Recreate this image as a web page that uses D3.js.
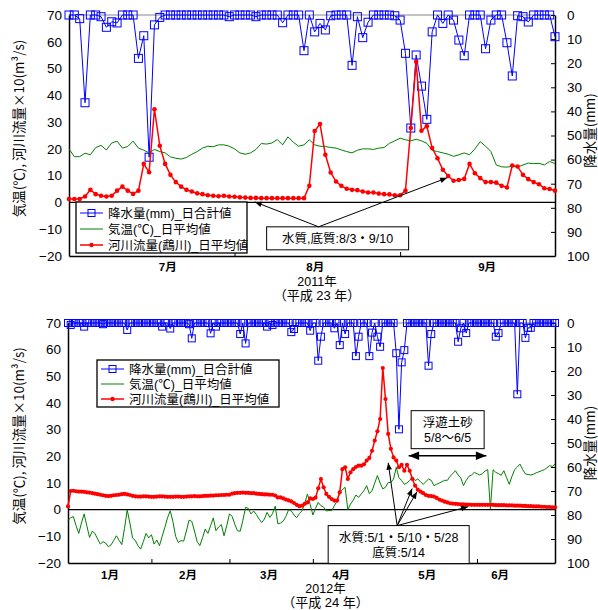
<!DOCTYPE html>
<html><head><meta charset="utf-8">
<script src="https://cdn.jsdelivr.net/npm/d3@7"></script>
<style>body{margin:0;background:#fff}svg{display:block}</style>
</head><body><svg id="c" width="598" height="610"></svg>
<script>
// ---------- DATA ----------
// 2011 (Jul 1 - Sep 30), daily
const rain2011 = [0,0,1.5,36.4,0,0,0.7,5.1,2.8,3.3, 0,0,0,18,8.6,59,4.1,1,0,0, 0,0,0,0,0,0,0,0,0,0,
  0.7,0,0,0,0,0.7,0,0,0,0, 3.2,0,0,0,14.8,0,7,3.5,6.2,0.3, 0,0,0,20.9,0.7,9.4,3,0,0,0,
  0,0.3,2.1,15.9,46.9,16.6,29.5,43.3,7,0, 3.5,0,2.1,10.4,16.9,0,0,0,14,2.1, 0,0,11.5,25.3,0.3,0.7,2.9,0,0,0, 0,9];
const temp2011 = [20,17.1,17.1,18.4,17.8,20.5,21.3,19.6,22.2,22.9, 20.3,20.9,22.9,20.3,19.5,18.5,19.8,19,18.5,17,
  16.5,16.2,16.8,18,19,20.3,21,20.8,21.5,21.5, 21,20,18.5,18,18.5,19.8,22,21.8,22.2,23.5,
  21.5,24.5,22.5,21,21.5,23.4,21.5,21,20.9,20.5, 20.3,19.6,19,18.5,19.5,20,20,19.8,20.3,20.5,
  22.1,23,24,23.4,23,23.6,23,22.1,19.5,19, 18.5,18,17.2,17.8,18.5,17.8,20,22.7,21,19,
  14,13.3,13.2,13.5,13.2,14,14.7,14.5,14.6,14, 15.3,14.5];
const flow2011 = [1.3,1.3,1.3,2.2,4.7,3.1,2.5,2.2,2.5,4.4, 5.9,4.4,3.2,4.4,14.4,11.3,34.8,21.2,14.4,10.3,
  7.6,5.9,4.7,4.1,3.4,3.1,2.7,2.5,2.3,2.5, 2.2,2.1,1.9,1.8,1.7,1.7,1.6,1.6,1.6,1.6,
  1.6,1.6,1.6,1.6,1.6,6.2,26.7,29.3,17.8,11.2, 7.8,6.2,5.1,4.7,4.6,4.1,3.7,3.7,3.3,3.1,
  3.0,2.7,2.7,4.4,27.8,52.5,26.8,28.5,20.3,16.5, 12.2,9.9,8.1,8.4,8.8,14.4,10.9,9.1,7.6,7.6,
  7.4,6.2,5.6,13.8,13.4,10.3,8.7,7.6,6.8,5.3, 5.0,4.4];

// 2012 (Jan 1 - Jun 30), daily
const rain2012 = [0,0.8,0,0,0,0,1.5,0,0,0, 0,0,0,0.5,0,0,0,0,0,0, 0,0,2.9,0,0,0,0,0,0,0,
  0,0,0,0,0,1.5,0,0,2.3,0, 0,0,0,0,0,0.5,6.4,0,0,0, 0,0,0,4.3,0,1.5,0,0,0,0,
  0,0,0,0,4.6,0,8.5,0,0,0, 0,0,0,0,1.5,0,0.8,0,0,0, 0,0,0,3.8,2.5,0,0,0,0,0,
  3.2,0,0,15.7,5.7,0,0,0,0,2.2, 0,9.2,0,4.6,0,0,0,13.8,5.7,0, 0,0,13.8,4,0,5.7,9.9,0,0,0,
  0,0,12.6,44.3,16.4,11.3,0,0,0,0, 0,0,0,0,17.8,4.6,0,0,0,0, 0,0,0,0,0,7.8,2.2,0,4.2,0,
  0,0,0,0,0,0,0,0,0,5.7, 4.2,0,0,0,0,0,0,29.7,0,0, 6.2,2,2,0,0,0,0,0,0,0, 0,0];
const temp2012 = [-4.1,-3,-2.6,-6,-8.9,-5,-1.6,-6,-10.4,-8.1, -8.9,-11,-12.9,-12,-12.5,-13.9,-13.2,-11.5,-9.8,-11.5,
  -13.1,-7,-0.1,-5,-10.6,-11.5,-13.5,-14.8,-12,-8.9, -10.6,-9.4,-12.9,-11.4,-13.5,-10,-6.6,-3,-0.4,-4.5,
  -10,-12.3,-11.6,-11.8,-8,-3.9,-4.4,-8,-12,-13.5, -10.5,-7.3,-8.9,-6,-3.1,-7.9,-6.5,-5.6,-9.8,-6,
  -1.6,-2.5,-5.5,-7.9,-8.1,-4,0.9,0.5,-1.6,-0.5, -1.8,-3.5,-4.8,-3.5,-1,-2.9,-1.5,1.3,-5.3,-5,
  -4.3,-2.5,0,-0.5,-2,-3,-1.5,-0.4,2.5,5.9, 2,-2,0.5,2.7,1.5,0.9,-0.5,-0.3,-0.4,1.5,
  3.2,6.5,7.5,8.4,0,2.1,3.5,5.5,4.6,5.9, 7.1,9,6,7.1,10,12.8,10,7.8,8.4,10.2,
  10.2,11.5,15.9,12,10.9,9.5,10,11,12.3,10.9, 11.5,10.5,9.5,10.5,11.5,11,9,9.5,10,10.5,
  11,11,12.5,13.5,14.6,13,11.9,9,11,12.5, 13,14,13.5,13,13.5,14.5,15,0.3,15,14,
  13.5,12.9,14.6,12,9.5,12.5,15,16,17.1,15, 13.4,13.2,13,13.3,13.8,14.2,14.6,15,15.7,16.5, 16.2,17.1];
const flow2012 = [1.2,7,7.1,6.9,6.8,6.8,6.7,6.5,6.4,6.2, 6.0,5.8,5.6,5.4,5.2,5.1,5.2,5.4,5.5,5.6,
  5.8,5.9,5.7,5.5,5.2,5.0,4.9,4.9,5.0,5.0, 4.9,4.8,4.8,4.9,5.0,5.0,4.9,4.8,4.8,4.8,
  4.9,4.9,4.8,4.8,4.9,5.0,5.0,5.1,5.0,5.0, 5.1,5.2,5.2,5.3,5.3,5.4,5.4,5.5,5.5,5.6,
  5.6,6.0,6.2,6.3,6.3,6.4,6.3,6.3,6.2,6.2, 6.0,5.9,5.8,5.7,5.7,5.6,5.6,5.3,4.6,4.6,
  4.2,3.8,3.5,3.1,2.5,1.8,1.3,1.5,2.2,2.7, 4.2,4.0,4.5,8.0,11.5,8.4,5.9,4.8,4.0,3.4,
  3.4,6.5,15.2,15.9,11.5,14,15.2,16,16.5,16.5, 17,18.4,19.4,22.1,25.9,29.4,34,53.1,41.5,28.4,
  22.8,19.6,18.4,15.9,16.8,14.6,16.8,14.6,11.5,9, 7.5,6.8,6.2,5.5,5.2,5.1,4.9,4.4,3.8,3.4,
  3.0,2.7,2.4,2.3,2.2,2.1,2.0,2.0,1.9,1.9, 1.8,1.8,1.8,1.8,1.8,1.8,1.8,1.8,1.8,1.7,
  1.7,1.7,1.7,1.6,1.6,1.6,1.5,1.5,1.5,1.4, 1.4,1.3,1.3,1.2,1.2,1.2,1.1,1.1,1.0,1.0, 0.9,0.9];

const leftTicks = [70,60,50,40,30,20,10,0,-10,-20];
const rightTicks = [0,10,20,30,40,50,60,70,80,90,100];
const monthTicks2011 = ["2011-08-01","2011-09-01"];
const monthNames2011 = ["7月","8月","9月"];
const monthLabelDay2011 = [18.5,46.1,78.3];      // day offset where label sits
const monthTicks2012 = ["2012-02-01","2012-03-01","2012-04-01","2012-05-01","2012-06-01"];
const monthNames2012 = ["1月","2月","3月","4月","5月","6月"];
const monthLabelDay2012 = [15.6,44.6,74.7,101.5,133.5,160.6];

const legendLabels = ["降水量(mm)_日合計値","気温(℃)_日平均値","河川流量(鵡川)_日平均値"];

// ---------- DRAW ----------
const svg = d3.select("#c");
const CJK = '"Noto Sans CJK JP","Noto Sans CJK SC",sans-serif';
const LAT = '"Liberation Sans",Arial,sans-serif';
const MIX = '"Liberation Sans","Noto Sans CJK JP",sans-serif';
const pt = d3.utcParse("%Y-%m-%d");

const defs = svg.append("defs");
defs.append("marker").attr("id","ah").attr("viewBox","0 0 10 10").attr("refX",10).attr("refY",5)
  .attr("markerWidth",8).attr("markerHeight",7).attr("orient","auto-start-reverse")
  .append("path").attr("d","M0,1L10,5L0,9z").attr("fill","#000");

function panel(cfg){
  const g = svg.append("g");
  const start = pt(cfg.start);
  const n = cfg.rain.length;
  const dates = d3.range(n).map(i => d3.utcDay.offset(start, i));
  const x = d3.scaleUtc().domain([dates[0], dates[n-1]]).range([cfg.x0, cfg.x1]);
  const xi = i => x(new Date(start.getTime() + i*864e5));
  const yL = d3.scaleLinear().domain([-20,70]).range([cfg.bottom, cfg.top]);
  const yR = d3.scaleLinear().domain([0,100]).range([cfg.top, cfg.bottom]);

  // top border (gray) and zero line
  g.append("line").attr("x1",cfg.x0).attr("x2",cfg.x1).attr("y1",yL(70)).attr("y2",yL(70))
    .attr("stroke","#888").attr("stroke-width",1);
  g.append("line").attr("x1",cfg.x0).attr("x2",cfg.x1).attr("y1",yL(0)).attr("y2",yL(0))
    .attr("stroke","#000").attr("stroke-width",1.3);

  // axes
  const aL = g.append("g").attr("transform",`translate(${cfg.x0},0)`)
    .call(d3.axisLeft(yL).tickValues(leftTicks).tickSize(0).tickPadding(7).tickFormat(d3.format("d")));
  const aR = g.append("g").attr("transform",`translate(${cfg.x1},0)`)
    .call(d3.axisRight(yR).tickValues(rightTicks).tickSizeInner(-4).tickSizeOuter(0).tickPadding(12).tickFormat(d3.format("d")));
  const aB = g.append("g").attr("transform",`translate(0,${cfg.bottom})`)
    .call(d3.axisBottom(x).tickValues(cfg.ticks.map(pt)).tickSizeInner(-4).tickSizeOuter(0).tickFormat(""));
  [aL,aR,aB].forEach(a => {
    a.select(".domain").attr("stroke","#000").attr("stroke-width",1.5);
    a.selectAll(".tick line").attr("stroke","#000");
    a.selectAll("text").attr("font-family",LAT).attr("font-size",13.5).attr("fill","#000");
  });
  aR.selectAll("text").attr("text-anchor","start");

  // month labels
  g.selectAll(".mlab").data(cfg.mNames).join("text").attr("class","mlab")
    .attr("x",(d,i)=>xi(cfg.mDays[i])).attr("y",cfg.bottom+cfg.monthDy)
    .attr("text-anchor","middle").attr("font-family",MIX).attr("font-size",11.5).attr("font-weight",700)
    .text(d=>d);
  const yc = (cfg.x0+cfg.x1)/2 + cfg.yearDx;
  g.append("text").attr("x",yc).attr("y",cfg.bottom+cfg.yearDy).attr("text-anchor","middle")
    .attr("font-family",MIX).attr("font-size",12.5).text(cfg.year);
  g.append("text").attr("x",yc).attr("y",cfg.bottom+cfg.yearDy+14.5).attr("text-anchor","middle")
    .attr("font-family",MIX).attr("font-size",13).text(cfg.era);

  // axis titles
  const midY = (cfg.top+cfg.bottom)/2;
  g.append("text").attr("transform",`translate(24,${midY+cfg.ltDy}) rotate(-90)`).attr("text-anchor","middle")
    .attr("font-family",CJK).attr("font-size",13.5)
    .text("気温(℃), 河川流量×10(m³/s)");
  g.append("text").attr("transform",`translate(595,${midY+cfg.rtDy}) rotate(-90)`).attr("text-anchor","middle")
    .attr("font-family",CJK).attr("font-size",13.5)
    .text("降水量(mm)");

  // series
  const rainPts = cfg.rain.map((v,i)=>({d:dates[i],v}));
  const tempPts = cfg.temp.map((v,i)=>({d:dates[i],v}));
  const flowPts = cfg.flow.map((v,i)=>({d:dates[i],v}));
  g.append("path").datum(rainPts).attr("fill","none").attr("stroke","#0000ff").attr("stroke-width",1)
    .attr("d",d3.line().x(p=>x(p.d)).y(p=>yR(p.v)));
  const s = cfg.sq;
  g.selectAll(".rm").data(rainPts).join("rect").attr("class","rm")
    .attr("x",p=>x(p.d)-s/2).attr("y",p=>yR(p.v)-s/2).attr("width",s).attr("height",s)
    .attr("fill","none").attr("stroke","#0000ff").attr("stroke-width",1);
  g.append("path").datum(tempPts).attr("fill","none").attr("stroke","#008000").attr("stroke-width",1)
    .attr("d",d3.line().x(p=>x(p.d)).y(p=>yL(p.v)));
  g.append("path").datum(flowPts).attr("fill","none").attr("stroke","#ff0000").attr("stroke-width",1.5)
    .attr("d",d3.line().x(p=>x(p.d)).y(p=>yL(p.v)));
  g.selectAll(".fm").data(flowPts).join("circle").attr("class","fm")
    .attr("cx",p=>x(p.d)).attr("cy",p=>yL(p.v)).attr("r",cfg.dot).attr("fill","#ff0000");

  // legend
  const L = cfg.legend;
  const lg = g.append("g");
  lg.append("rect").attr("x",L.x).attr("y",L.y).attr("width",L.w).attr("height",L.h)
    .attr("fill","#fff").attr("stroke","#000").attr("stroke-width",1.3);
  const cols = ["#0000ff","#008000","#ff0000"];
  legendLabels.forEach((t,k)=>{
    const yy = L.y + L.pad + k*L.step;
    lg.append("line").attr("x1",L.x+4).attr("x2",L.x+27).attr("y1",yy).attr("y2",yy)
      .attr("stroke",cols[k]).attr("stroke-width",k==2?1.5:1);
    if(k==0) lg.append("rect").attr("x",L.x+15.5-3.5).attr("y",yy-3.5).attr("width",7).attr("height",7)
      .attr("fill","none").attr("stroke","#0000ff");
    if(k==2) lg.append("circle").attr("cx",L.x+15.5).attr("cy",yy).attr("r",2.2).attr("fill","#ff0000");
    lg.append("text").attr("x",L.x+32).attr("y",yy+4.5).attr("font-family",MIX).attr("font-size",12.5).text(t);
  });

  // annotations
  cfg.notes.forEach(nt=>{
    const cx = xi(nt.i), cy = yL(nt.v);
    g.append("rect").attr("x",cx-nt.w/2).attr("y",cy-nt.h/2).attr("width",nt.w).attr("height",nt.h)
      .attr("fill","#fff").attr("stroke","#000").attr("stroke-width",1);
    nt.lines.forEach((t,k)=>{
      g.append("text").attr("x",cx).attr("y",cy - (nt.lines.length-1)*7.5 + k*15 + 4.5)
        .attr("text-anchor","middle").attr("font-family",MIX).attr("font-size",12.5).text(t);
    });
    (nt.arrows||[]).forEach(a=>{
      g.append("line").attr("x1",cx+nt.ox).attr("y1",cy-nt.h/2).attr("x2",xi(a.i)).attr("y2",yL(a.v))
        .attr("stroke","#000").attr("stroke-width",1).attr("marker-end","url(#ah)");
    });
  });
  (cfg.spans||[]).forEach(sp=>{
    g.append("line").attr("x1",xi(sp.i0)).attr("x2",xi(sp.i1)).attr("y1",yL(sp.v)).attr("y2",yL(sp.v))
      .attr("stroke","#000").attr("stroke-width",1.5)
      .attr("marker-start","url(#ah)").attr("marker-end","url(#ah)");
  });
}

panel({start:"2011-07-01", rain:rain2011, temp:temp2011, flow:flow2011,
  x0:69, x1:555, top:15, bottom:256, sq:8, dot:2.3,
  ticks:monthTicks2011, mNames:monthNames2011, mDays:monthLabelDay2011,
  year:"2011年", era:"（平成 23 年）", yearDx:5, yearDy:29.5, monthDy:15, ltDy:-7, rtDy:-5,
  legend:{x:76,y:202,w:171,h:51,pad:11,step:16},
  notes:[{i:50.3, v:-13.4, w:142, h:23, ox:-19, lines:["水質,底質:8/3・9/10"],
    arrows:[{i:34.8,v:0.2},{i:70.8,v:9.2}]}]
});

panel({start:"2012-01-01", rain:rain2012, temp:temp2012, flow:flow2012,
  x0:68, x1:555, top:323, bottom:563, sq:7, dot:2.1,
  ticks:monthTicks2012, mNames:monthNames2012, mDays:monthLabelDay2012,
  year:"2012年", era:"（平成 24 年）", yearDx:14, yearDy:29.5, monthDy:15.5, ltDy:-7, rtDy:0,
  legend:{x:97,y:360,w:182,h:47,pad:9,step:15},
  notes:[
    {i:122.9, v:-13.1, w:141, h:38, ox:-1.5, lines:["水質:5/1・5/10・5/28","底質:5/14"],
     arrows:[{i:119,v:17.6},{i:127.9,v:7.9},{i:129.7,v:6.7},{i:148.7,v:1.1}]},
    {i:141.1, v:30, w:73, h:38, ox:0, lines:["浮遊土砂","5/8～6/5"]}
  ],
  spans:[{i0:126.6, i1:155.5, v:20.2}]
});
</script></body></html>
